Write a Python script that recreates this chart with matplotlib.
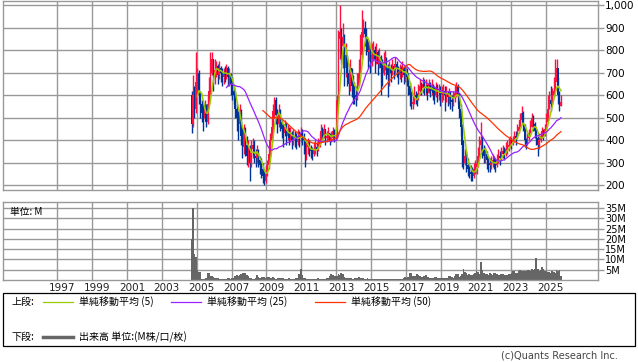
import matplotlib
matplotlib.use("Agg")
import matplotlib.pyplot as plt
import matplotlib.transforms as mtransforms
from matplotlib.patches import Rectangle
from matplotlib.lines import Line2D
import numpy as np
import pandas as pd

# monthly candles, Sep 2004 .. Nov 2025
START = "2004-09-01"
FIRST_OPEN = 600

close = [
    470, 600, 540, 660,
    700, 600, 560, 520, 500, 540, 480, 560, 620, 700, 760, 690,
    710, 730, 690, 720, 700, 680, 700, 690, 720, 680, 690, 650,
    620, 600, 540, 500, 470, 520, 420, 370, 440, 380, 330, 360,
    300, 360, 380, 330, 320, 350, 310, 290, 270, 240, 220, 250,
    290, 340, 400, 460, 530, 580, 510, 470, 520, 480, 450, 430,
    460, 420, 440, 410, 430, 400, 420, 410, 390, 420, 410, 430,
    420, 400, 340, 370, 380, 360, 350, 340, 360, 370, 360, 380,
    400, 440, 420, 450, 410, 420, 430, 400, 410, 440, 420, 430,
    580, 850, 880, 820, 860, 720, 780, 700, 650, 720, 640, 620,
    600, 590, 640, 700, 780, 880, 900, 870, 850, 790, 800, 760,
    780, 800, 760, 790, 740, 770, 720, 700, 740, 760, 720, 690,
    720, 700, 730, 710, 740, 720, 690, 710, 700, 720, 690, 700,
    680, 640, 600, 560, 570, 600, 590, 580, 620, 640, 630, 650,
    630, 640, 610, 650, 620, 640, 610, 600, 630, 610, 620, 600,
    610, 620, 600, 610, 590, 600, 580, 570, 590, 610, 640, 600,
    540, 460, 380, 300, 330, 290, 270, 260, 250, 240, 270, 280,
    300, 330, 380, 400, 360, 330, 340, 310, 300, 290, 300, 310,
    300, 290, 310, 330, 320, 340, 350, 340, 360, 370, 380, 400,
    390, 400, 420, 410, 440, 460, 490, 520, 470, 400, 380, 410,
    430, 460, 500, 470, 440, 410, 380, 400, 420, 440, 420, 450,
    480, 540, 580, 560, 600, 620, 660, 720, 600, 550, 570,
]
high = [
    620, 690, 640, 790,
    720, 710, 620, 580, 560, 580, 560, 600, 680, 790, 790, 760,
    760, 750, 740, 750, 730, 720, 720, 730, 740, 730, 720, 700,
    680, 640, 620, 560, 530, 560, 540, 460, 470, 460, 420, 400,
    380, 400, 410, 400, 360, 380, 360, 330, 320, 300, 270, 290,
    310, 370, 430, 500, 560, 590, 590, 540, 560, 540, 490, 470,
    490, 480, 470, 460, 460, 440, 450, 440, 430, 450, 440, 460,
    450, 430, 410, 400, 410, 400, 380, 370, 390, 400, 390, 410,
    430, 470, 460, 470, 450, 440, 460, 430, 440, 460, 450, 460,
    600, 890, 1000, 900, 920, 870, 830, 780, 740, 760, 720, 690,
    660, 640, 700, 760, 870, 980, 940, 930, 900, 840, 840, 820,
    830, 840, 820, 830, 800, 810, 780, 760, 790, 800, 770, 740,
    750, 740, 760, 740, 770, 750, 730, 740, 730, 750, 730, 730,
    720, 700, 660, 620, 610, 640, 620, 610, 650, 670, 660, 680,
    670, 670, 650, 670, 660, 670, 650, 640, 660, 650, 650, 640,
    640, 650, 640, 640, 620, 630, 620, 600, 620, 640, 660, 650,
    610, 560, 470, 400, 360, 350, 320, 300, 290, 280, 300, 310,
    330, 370, 420, 480, 420, 380, 370, 350, 330, 320, 330, 340,
    330, 320, 340, 360, 350, 370, 380, 370, 390, 400, 410, 420,
    410, 420, 440, 440, 470, 490, 520, 550, 530, 470, 410, 430,
    450, 490, 520, 510, 480, 450, 420, 430, 440, 460, 450, 470,
    520, 600, 620, 640, 630, 680, 760, 760, 680, 620, 600,
]
low = [
    430, 460, 500, 520,
    600, 560, 500, 480, 440, 490, 460, 470, 560, 600, 690, 620,
    650, 680, 650, 670, 660, 640, 650, 660, 670, 640, 640, 600,
    580, 560, 500, 440, 400, 440, 380, 320, 340, 330, 290, 280,
    220, 280, 320, 300, 280, 300, 280, 250, 230, 210, 200, 210,
    240, 270, 330, 390, 440, 500, 470, 430, 460, 440, 410, 370,
    420, 380, 400, 380, 390, 360, 380, 370, 360, 380, 370, 390,
    380, 340, 280, 310, 340, 330, 320, 310, 330, 340, 330, 350,
    370, 390, 390, 410, 380, 390, 400, 380, 390, 400, 390, 400,
    410, 560, 760, 740, 720, 640, 680, 640, 600, 620, 590, 560,
    560, 550, 580, 640, 700, 760, 860, 820, 780, 720, 750, 700,
    730, 750, 700, 740, 690, 720, 600, 640, 690, 710, 670, 590,
    640, 660, 690, 670, 700, 680, 650, 670, 660, 680, 650, 660,
    640, 600, 550, 540, 540, 560, 560, 550, 580, 600, 600, 610,
    600, 600, 580, 610, 590, 600, 580, 560, 590, 570, 580, 550,
    570, 580, 530, 570, 550, 560, 540, 530, 550, 570, 590, 560,
    500, 420, 280, 270, 290, 260, 240, 230, 220, 220, 230, 250,
    250, 280, 320, 340, 320, 300, 300, 270, 260, 260, 270, 280,
    270, 260, 280, 300, 290, 310, 320, 310, 330, 340, 350, 370,
    360, 380, 390, 380, 410, 430, 460, 480, 440, 370, 360, 380,
    400, 430, 460, 440, 410, 380, 330, 360, 390, 410, 400, 420,
    440, 490, 540, 530, 560, 590, 620, 680, 560, 530, 550,
]
# volume, millions
volume = [
    20.0, 35.0, 12.5, 11.0,
    4.8, 4.0, 3.8, 0.5, 0.3, 0.5, 0.8, 3.5, 3.2, 2.0, 1.8, 1.5,
    1.2, 1.0, 0.8, 0.6, 0.5, 0.4, 0.5, 0.6, 0.7, 0.9, 1.0, 0.6,
    1.0, 1.2, 2.0, 2.2, 1.8, 2.5, 3.0, 3.5, 3.2, 3.5, 2.4, 2.0,
    0.8, 0.9, 0.7, 0.6, 0.8, 2.4, 1.5, 1.2, 1.3, 1.5, 1.4, 1.2,
    1.3, 1.4, 0.9, 0.8, 1.3, 1.2, 0.7, 0.8, 0.9, 1.2, 1.0, 0.8,
    0.6, 0.7, 0.5, 0.8, 0.6, 0.5, 0.7, 0.6, 0.8, 1.2, 2.8, 5.3,
    2.5, 1.0, 0.8, 0.6, 0.5, 0.6, 0.5, 0.4, 0.5, 0.6, 0.7, 0.8,
    0.6, 0.5, 0.4, 0.5, 0.6, 0.8, 1.0, 2.0, 3.0, 2.5, 2.0, 1.8,
    2.0, 3.0, 2.5, 3.2, 2.8, 1.5, 1.2, 1.0, 0.9, 1.0, 0.8, 0.7,
    0.8, 0.9, 1.0, 1.4, 1.2, 0.9, 0.8, 0.7, 0.6, 0.8, 0.7, 0.6,
    0.6, 0.7, 0.5, 0.6, 0.5, 0.4, 0.5, 0.4, 0.6, 0.5, 0.5, 0.4,
    0.5, 0.6, 0.4, 0.5, 0.5, 0.6, 0.6, 0.5, 0.4, 0.6, 0.8, 1.3,
    1.2, 1.3, 3.6, 3.4, 2.0, 1.9, 1.8, 2.9, 2.6, 2.0, 1.6, 1.5,
    1.9, 2.2, 1.6, 1.3, 1.0, 0.9, 1.0, 1.5, 1.4, 1.0, 0.8, 0.9,
    0.8, 1.2, 1.0, 0.8, 0.9, 1.9, 2.0, 1.4, 1.2, 2.0, 2.9, 2.7,
    1.5, 2.0, 3.0, 5.3, 4.0, 3.5, 2.5, 2.8, 2.4, 2.6, 2.9, 3.5,
    4.5, 3.8, 2.8, 8.9, 4.8, 3.5, 2.9, 3.0, 2.6, 3.5, 3.0, 2.5,
    3.5, 3.2, 2.8, 2.5, 2.2, 3.0, 3.1, 2.6, 2.2, 2.5, 2.8, 3.0,
    3.4, 4.5, 4.2, 3.6, 3.5, 4.4, 4.8, 4.6, 4.5, 4.3, 4.6, 4.9,
    5.0, 4.5, 5.6, 4.8, 5.2, 10.5, 5.6, 4.4, 5.0, 6.5, 5.2, 4.5,
    4.3, 3.8, 4.0, 3.5, 4.2, 4.0, 3.6, 4.8, 4.5, 4.7, 1.8,
]

year_ticks = list(range(1997, 2026, 2))
price_ticks = [200, 300, 400, 500, 600, 700, 800, 900, 1000]
vol_ticks = [5, 10, 15, 20, 25, 30, 35]

UP = "#ff1040"
DOWN = "#003399"
GRID = "#999999"
CJK = ["Noto Sans CJK JP", "DejaVu Sans"]

df = pd.DataFrame({"close": close, "high": high, "low": low, "vol": volume},
                  index=pd.date_range(START, periods=len(close), freq="MS"))
df["open"] = df["close"].shift(1).fillna(FIRST_OPEN)
# centre of each month as fractional year
x = (df.index.year + (df.index.month - 0.5) / 12).to_numpy()

fig = plt.figure(figsize=(6.38, 3.62), dpi=100)
ax_p = fig.add_axes([0.0047, 0.475, 0.9326, 0.522])
ax_v = fig.add_axes([0.0047, 0.2265, 0.9326, 0.2155])

XLIM = (1993.9, 2028.0)
for ax in (ax_p, ax_v):
    ax.set_xlim(*XLIM)
    ax.set_xticks(year_ticks)
    ax.grid(True, color=GRID, linewidth=1.0)
    ax.set_axisbelow(True)
    for s in ax.spines.values():
        s.set_color(GRID)
        s.set_linewidth(1.0)
    ax.yaxis.tick_right()
    ax.tick_params(axis="y", which="both", direction="out", length=4,
                   color=GRID, width=1.0, pad=1, labelsize=7.5)
    ax.tick_params(axis="x", length=0)

# --- price panel
up = df["close"] >= df["open"]
cols = np.where(up, UP, DOWN)
ax_p.vlines(x, df["low"], df["high"], colors=cols, linewidth=1.0, zorder=2)
body_lo = np.minimum(df["open"], df["close"])
body_h = np.abs(df["close"] - df["open"]).clip(lower=4)
ax_p.bar(x, body_h, bottom=body_lo, width=0.085, color=cols, linewidth=0, zorder=2)

ma5 = df["close"].rolling(5).mean()
ma25 = df["close"].rolling(25).mean()
ma50 = df["close"].rolling(50).mean()
ax_p.plot(x, ma5, color="#99cc00", linewidth=1.1, zorder=3)
ax_p.plot(x, ma25, color="#9922ff", linewidth=0.9, zorder=3)
ax_p.plot(x, ma50, color="#ff3300", linewidth=0.9, zorder=3)

ax_p.set_ylim(178, 1018)
ax_p.set_yticks(price_ticks)
ax_p.set_yticklabels([f"{v:,}" for v in price_ticks])
ax_p.tick_params(axis="x", labelbottom=False)

# --- volume panel (bars slightly overlap so they read as a solid block)
ax_v.bar(x, df["vol"], width=0.1, color="#666666", linewidth=0, zorder=2)
ax_v.set_ylim(0, 38)
ax_v.set_yticks(vol_ticks)
ax_v.set_yticklabels([f"{v}M" for v in vol_ticks])
ax_v.tick_params(axis="y", labelsize=7)
ax_v.set_xticklabels([str(y) for y in year_ticks])
ax_v.tick_params(axis="x", labelsize=7.5, pad=2, colors="#222222")
shift = mtransforms.ScaledTranslation(5 / 100, 0, fig.dpi_scale_trans)
for lbl in ax_v.get_xticklabels():
    lbl.set_transform(lbl.get_transform() + shift)
ax_v.text(0.012, 0.93, "単位: M", transform=ax_v.transAxes, ha="left", va="top",
          fontsize=7, family=CJK)

# --- legend box
fig.patches.append(Rectangle((0.0047, 0.0442), 0.9906, 0.1464, transform=fig.transFigure,
                             fill=False, edgecolor="#000000", linewidth=0.9))

def fx(px):
    return px / 638

def fy(py):
    return 1 - py / 362

y_top = fy(302)
y_bot = fy(337)
fig.text(fx(11), y_top, "上段:", fontsize=7.2, family=CJK, va="center")
fig.text(fx(11), y_bot, "下段:", fontsize=7.2, family=CJK, va="center")
legend_items = [
    (43, 73, 79, "#99cc00", "単純移動平均 (5)"),
    (171, 201, 207, "#9922ff", "単純移動平均 (25)"),
    (315, 345, 351, "#ff3300", "単純移動平均 (50)"),
]
for x0, x1, tx, c, label in legend_items:
    fig.lines.append(Line2D([fx(x0), fx(x1)], [y_top, y_top], transform=fig.transFigure,
                            color=c, linewidth=0.9))
    fig.text(fx(tx), y_top, label, fontsize=7.2, family=CJK, va="center")
fig.lines.append(Line2D([fx(43), fx(73)], [y_bot, y_bot], transform=fig.transFigure,
                        color="#666666", linewidth=2.5))
fig.text(fx(79), y_bot, "出来高 単位:(M株/口/枚)", fontsize=7.2, family=CJK, va="center")

fig.text(fx(618), fy(356), "(c)Quants Research Inc.", fontsize=7, ha="right", va="center",
         color="#444444")

fig.savefig("out.png", dpi=100)
